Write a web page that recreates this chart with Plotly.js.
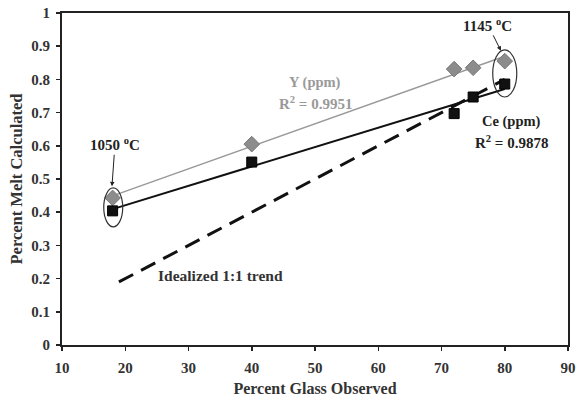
<!DOCTYPE html>
<html>
<head>
<meta charset="utf-8">
<script src="https://cdn.plot.ly/plotly-3.0.1.min.js"></script>
<style>html,body{margin:0;padding:0;background:#fff;}#chart{width:577px;height:400px;}</style>
</head>
<body>
<div id="chart"></div>
<script>
// Data
const glassObserved = [18, 40, 72, 75, 80];
const yMelt = [0.443, 0.605, 0.831, 0.835, 0.855];
const ceMelt = [0.404, 0.551, 0.697, 0.747, 0.786];
const idealX = [19, 80];
const idealY = [0.19, 0.80];
const xTicks = [10, 20, 30, 40, 50, 60, 70, 80, 90];
const yTicks = [0, 0.1, 0.2, 0.3, 0.4, 0.5, 0.6, 0.7, 0.8, 0.9, 1];

function fit(xs, ys) {
  const n = xs.length;
  const mx = xs.reduce((a, b) => a + b, 0) / n;
  const my = ys.reduce((a, b) => a + b, 0) / n;
  let sxy = 0, sxx = 0;
  for (let i = 0; i < n; i++) { sxy += (xs[i] - mx) * (ys[i] - my); sxx += (xs[i] - mx) ** 2; }
  const m = sxy / sxx, b = my - m * mx;
  const x0 = Math.min(...xs), x1 = Math.max(...xs);
  return { x: [x0, x1], y: [m * x0 + b, m * x1 + b] };
}
const yFit = fit(glassObserved, yMelt);
const ceFit = fit(glassObserved, ceMelt);

const F = "Liberation Serif, Times New Roman, serif";

const traces = [
  { x: idealX, y: idealY, mode: 'lines', line: { color: '#111', width: 3, dash: '16px,9px' }, hoverinfo: 'skip' },
  { x: yFit.x, y: yFit.y, mode: 'lines', line: { color: '#999', width: 1.5 }, hoverinfo: 'skip' },
  { x: ceFit.x, y: ceFit.y, mode: 'lines', line: { color: '#111', width: 2 }, hoverinfo: 'skip' },
  { x: glassObserved, y: yMelt, mode: 'markers', name: 'Y (ppm)',
    marker: { symbol: 'diamond', size: 12, color: '#8c8c8c', line: { color: '#777', width: 1 } } },
  { x: glassObserved, y: ceMelt, mode: 'markers', name: 'Ce (ppm)',
    marker: { symbol: 'square', size: 10, color: '#111', line: { color: '#000', width: 1 } } }
];

const layout = {
  width: 577, height: 400,
  margin: { l: 62, r: 9, t: 13, b: 55 },
  paper_bgcolor: '#fff', plot_bgcolor: '#fff',
  showlegend: false,
  font: { family: F, color: '#222' },
  xaxis: {
    range: [10, 90], tickvals: xTicks, ticks: 'outside', ticklen: 4, tickwidth: 1.5, tickcolor: '#222',
    ticklabelstandoff: 4,
    showgrid: false, zeroline: false, showline: true, linecolor: '#222', linewidth: 2, mirror: true,
    tickfont: { family: F, size: 15, color: '#333', weight: 'bold' },
    title: { text: '<b>Percent Glass Observed</b>', font: { family: F, size: 16, color: '#333' }, standoff: 8 }
  },
  yaxis: {
    range: [0, 1], tickvals: yTicks, ticktext: yTicks.map(v => String(v)), ticks: 'outside', ticklen: 4, tickwidth: 1.5, tickcolor: '#222',
    ticklabelstandoff: 3,
    showgrid: false, zeroline: false, showline: true, linecolor: '#222', linewidth: 2, mirror: true,
    tickfont: { family: F, size: 15, color: '#333', weight: 'bold' },
    title: { text: '<b>Percent Melt Calculated</b>', font: { family: F, size: 16.5, color: '#333' }, standoff: 4 }
  },
  shapes: [
    { type: 'circle', xref: 'x', yref: 'y', x0: 16.6, x1: 19.6, y0: 0.356, y1: 0.473, line: { color: '#333', width: 1.2 } },
    { type: 'circle', xref: 'x', yref: 'y', x0: 78.1, x1: 81.9, y0: 0.747, y1: 0.889, line: { color: '#333', width: 1.2 } }
  ],
  annotations: [
    { x: 17.9, y: 0.478, xref: 'x', yref: 'y', ax: 3, ay: -42, text: '<b>1050 <sup>o</sup>C</b>', showarrow: true,
      arrowhead: 2, arrowsize: 0.9, arrowwidth: 1, arrowcolor: '#222', font: { family: F, size: 15, color: '#222' } },
    { x: 79.4, y: 0.886, xref: 'x', yref: 'y', ax: -13, ay: -26, text: '<b>1145 <sup>o</sup>C</b>', showarrow: true,
      arrowhead: 2, arrowsize: 0.9, arrowwidth: 1, arrowcolor: '#222', font: { family: F, size: 15, color: '#222' } },
    { x: 50, y: 0.792, xref: 'x', yref: 'y', text: '<b>Y (ppm)</b>', showarrow: false, font: { family: F, size: 14.5, color: '#999' } },
    { x: 50, y: 0.729, xref: 'x', yref: 'y', text: '<b>R<sup>2</sup> = 0.9951</b>', showarrow: false, font: { family: F, size: 15, color: '#999' } },
    { x: 81.0, y: 0.672, xref: 'x', yref: 'y', text: '<b>Ce (ppm)</b>', showarrow: false, font: { family: F, size: 14.5, color: '#222' } },
    { x: 81.0, y: 0.611, xref: 'x', yref: 'y', text: '<b>R<sup>2</sup> = 0.9878</b>', showarrow: false, font: { family: F, size: 15, color: '#222' } },
    { x: 35.1, y: 0.21, xref: 'x', yref: 'y', text: '<b>Idealized 1:1 trend</b>', showarrow: false, font: { family: F, size: 15.5, color: '#333' } }
  ]
};

Plotly.newPlot('chart', traces, layout, { displayModeBar: false, staticPlot: true });
</script>
</body>
</html>
